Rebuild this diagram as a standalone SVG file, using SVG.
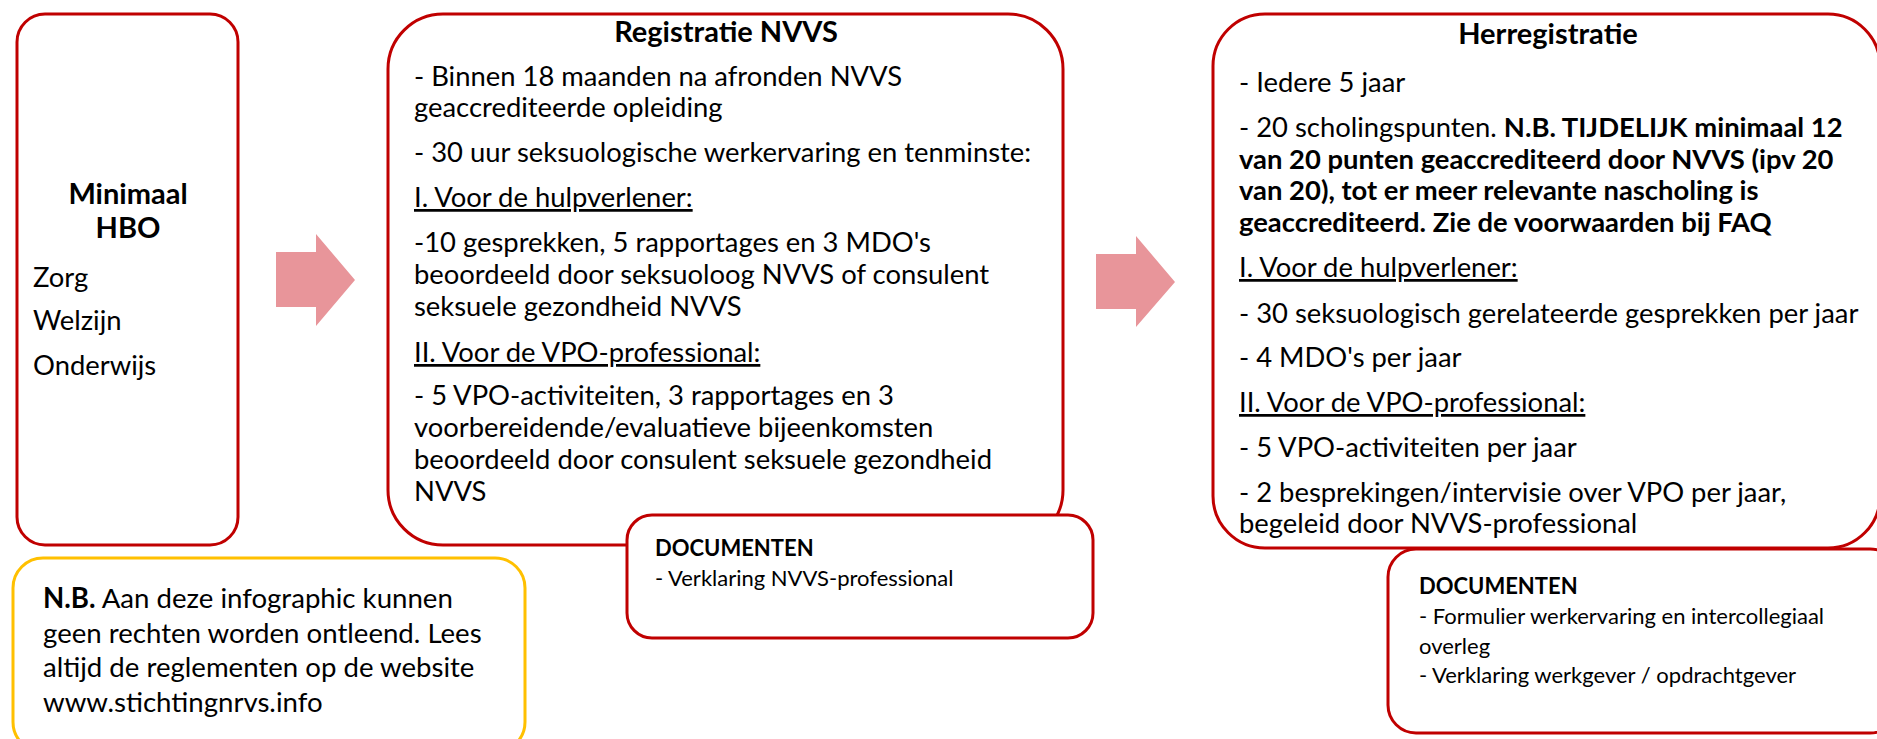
<svg xmlns="http://www.w3.org/2000/svg" width="1877" height="739" viewBox="0 0 1877 739">
<style>
  .box { fill: #FFFFFF; stroke: #C00000; stroke-width: 3; }
  .note { fill: #FFFFFF; stroke: #FFC000; stroke-width: 3; }
  .arrow { fill: #E8959A; stroke: none; }
  text { font-family: Lato, "Liberation Sans", sans-serif; fill: #000000; }
  .t { font-size: 27.4px; }
  .h { font-size: 29px; font-weight: bold; }
  .b { font-weight: bold; }
  .u { text-decoration: underline; }
  .d { font-size: 22px; }
  .n { font-size: 27.6px; }
  .mid { text-anchor: middle; }
</style>
<rect width="1877" height="739" fill="#FFFFFF"/>

<g id="connectors">
  <polygon class="arrow" points="276,252 316,252 316,234 355,280 316,326 316,307 276,307"/>
  <polygon class="arrow" points="1096,254 1136,254 1136,236 1175,282 1136,327 1136,309 1096,309"/>
</g>

<g id="node-hbo">
  <rect class="box" x="17" y="14" width="221" height="531" rx="28" ry="28"/>
  <text class="h mid" x="128" y="204">Minimaal</text>
  <text class="h mid" x="128" y="238">HBO</text>
  <text class="t" x="33" y="287">Zorg</text>
  <text class="t" x="33" y="330">Welzijn</text>
  <text class="t" x="33" y="375">Onderwijs</text>
</g>

<g id="node-registratie">
  <rect class="box" x="388" y="14" width="675" height="531" rx="55" ry="55"/>
  <text class="h mid" x="726" y="42">Registratie NVVS</text>
  <text class="t" x="414" y="86">- Binnen 18 maanden na afronden NVVS</text>
  <text class="t" x="414" y="117">geaccrediteerde opleiding</text>
  <text class="t" x="414" y="162">- 30 uur seksuologische werkervaring en tenminste:</text>
  <text class="t u" x="414" y="207">I. Voor de hulpverlener:</text>
  <text class="t" x="414" y="252">-10 gesprekken, 5 rapportages en 3 MDO's</text>
  <text class="t" x="414" y="284">beoordeeld door seksuoloog NVVS of consulent</text>
  <text class="t" x="414" y="316">seksuele gezondheid NVVS</text>
  <text class="t u" x="414" y="362">II. Voor de VPO-professional:</text>
  <text class="t" x="414" y="405">- 5 VPO-activiteiten, 3 rapportages en 3</text>
  <text class="t" x="414" y="437">voorbereidende/evaluatieve bijeenkomsten</text>
  <text class="t" x="414" y="469">beoordeeld door consulent seksuele gezondheid</text>
  <text class="t" x="414" y="501">NVVS</text>
</g>

<g id="node-documenten-registratie">
  <rect class="box" x="627" y="515" width="466" height="123" rx="25" ry="25"/>
  <text class="d b" x="655" y="556">DOCUMENTEN</text>
  <text class="d" x="655" y="586">- Verklaring NVVS-professional</text>
</g>

<g id="node-herregistratie">
  <rect class="box" x="1213" y="14" width="667" height="534" rx="52" ry="52"/>
  <text class="h mid" x="1548" y="44">Herregistratie</text>
  <text class="t" x="1239" y="92">- Iedere 5 jaar</text>
  <text class="t" x="1239" y="137">- 20 scholingspunten. <tspan class="b">N.B. TIJDELIJK minimaal 12</tspan></text>
  <text class="t b" x="1239" y="168.5">van 20 punten geaccrediteerd door NVVS (ipv 20</text>
  <text class="t b" x="1239" y="200">van 20), tot er meer relevante nascholing is</text>
  <text class="t b" x="1239" y="231.5">geaccrediteerd. Zie de voorwaarden bij FAQ</text>
  <text class="t u" x="1239" y="277">I. Voor de hulpverlener:</text>
  <text class="t" x="1239" y="323">- 30 seksuologisch gerelateerde gesprekken per jaar</text>
  <text class="t" x="1239" y="367">- 4 MDO's per jaar</text>
  <text class="t u" x="1239" y="412">II. Voor de VPO-professional:</text>
  <text class="t" x="1239" y="457">- 5 VPO-activiteiten per jaar</text>
  <text class="t" x="1239" y="502">- 2 besprekingen/intervisie over VPO per jaar,</text>
  <text class="t" x="1239" y="533">begeleid door NVVS-professional</text>
</g>

<g id="node-documenten-herregistratie">
  <rect class="box" x="1388" y="549" width="510" height="184" rx="28" ry="28"/>
  <text class="d b" x="1419" y="594">DOCUMENTEN</text>
  <text class="d" x="1419" y="624">- Formulier werkervaring en intercollegiaal</text>
  <text class="d" x="1419" y="654">overleg</text>
  <text class="d" x="1419" y="683">- Verklaring werkgever / opdrachtgever</text>
</g>

<g id="node-nb">
  <rect class="note" x="13" y="558" width="512" height="194" rx="30" ry="30"/>
  <text class="n" x="43" y="608"><tspan class="b">N.B.</tspan> Aan deze infographic kunnen</text>
  <text class="n" x="43" y="643">geen rechten worden ontleend. Lees</text>
  <text class="n" x="43" y="677">altijd de reglementen op de website</text>
  <text class="n" x="43" y="712">www.stichtingnrvs.info</text>
</g>
</svg>
